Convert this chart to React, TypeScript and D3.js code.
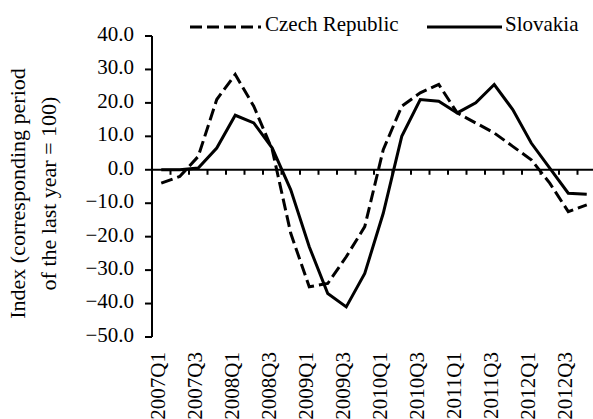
import React, { useEffect, useRef } from "react";
import * as d3 from "d3";

const quarters = [
  "2007Q1", "2007Q2", "2007Q3", "2007Q4",
  "2008Q1", "2008Q2", "2008Q3", "2008Q4",
  "2009Q1", "2009Q2", "2009Q3", "2009Q4",
  "2010Q1", "2010Q2", "2010Q3", "2010Q4",
  "2011Q1", "2011Q2", "2011Q3", "2011Q4",
  "2012Q1", "2012Q2", "2012Q3", "2012Q4",
];

const czech = [-4, -2, 4, 21, 28.5, 19, 6, -19, -35, -34, -26, -17, 6, 19, 23, 25.5, 17, 14, 11, 7, 3, -4, -12.5, -10.5];
const slovakia = [0, 0, 0.5, 6.5, 16.3, 14, 6.5, -6, -23, -37, -41, -31, -13, 10, 21, 20.5, 17, 20, 25.5, 18, 8, 0.5, -7, -7.3];

const yTicks = [40, 30, 20, 10, 0, -10, -20, -30, -40, -50];
const xLabels = quarters.filter((q, i) => i % 2 === 0);

const FONT = "'Liberation Serif', 'Times New Roman', serif";

export default function App() {
  const ref = useRef<SVGSVGElement | null>(null);

  useEffect(() => {
    const svg = d3.select(ref.current);
    svg.selectAll("*").remove();

    const left = 152;
    const right = 596;

    const x = d3.scaleBand().domain(quarters).range([left, right]).padding(0);
    const y = d3.scaleLinear().domain([-50, 40]).range([337, 36]);
    const cx = (q: string) => (x(q) as number) + x.bandwidth() / 2;

    // y axis
    svg.append("line")
      .attr("x1", left).attr("x2", left)
      .attr("y1", y(40)).attr("y2", y(-50))
      .attr("stroke", "#000").attr("stroke-width", 2);

    const yt = svg.append("g").selectAll("g").data(yTicks).enter().append("g");
    yt.append("line")
      .attr("x1", left - 7).attr("x2", left)
      .attr("y1", d => y(d)).attr("y2", d => y(d))
      .attr("stroke", "#000").attr("stroke-width", 2);
    yt.append("text")
      .attr("x", 134)
      .attr("y", d => y(d) - 2)
      .attr("dy", "0.33em")
      .attr("text-anchor", "end")
      .style("font-family", FONT)
      .style("font-size", "21px")
      .text(d => (d < 0 ? "\u2212" + Math.abs(d).toFixed(1) : d.toFixed(1)));

    // x axis at zero
    svg.append("line")
      .attr("x1", left).attr("x2", right)
      .attr("y1", y(0)).attr("y2", y(0))
      .attr("stroke", "#000").attr("stroke-width", 2);

    svg.append("g").selectAll("line").data(quarters.slice(1)).enter().append("line")
      .attr("x1", q => x(q) as number).attr("x2", q => x(q) as number)
      .attr("y1", y(0)).attr("y2", y(0) + 5)
      .attr("stroke", "#000").attr("stroke-width", 2);

    svg.append("g").selectAll("text").data(xLabels).enter().append("text")
      .attr("transform", q => `translate(${cx(q) - 3.5},352) rotate(-90)`)
      .attr("dy", "0.35em")
      .attr("text-anchor", "end")
      .style("font-family", FONT)
      .style("font-size", "21px")
      .text(q => q);

    // y title
    const title = svg.append("text")
      .attr("transform", "translate(0,193.5) rotate(-90)")
      .attr("text-anchor", "middle")
      .style("font-family", FONT)
      .style("font-size", "22px");
    title.append("tspan").attr("x", 0).attr("y", 25).text("Index (corresponding period");
    title.append("tspan").attr("x", 0).attr("y", 56).text("of the last year = 100)");

    // lines
    const line = d3.line<number>()
      .x((d, i) => cx(quarters[i]))
      .y(d => y(d));

    svg.append("path")
      .datum(czech)
      .attr("d", line)
      .attr("fill", "none")
      .attr("stroke", "#000")
      .attr("stroke-width", 3)
      .attr("stroke-dasharray", "12,5");

    svg.append("path")
      .datum(slovakia)
      .attr("d", line)
      .attr("fill", "none")
      .attr("stroke", "#000")
      .attr("stroke-width", 3);

    // legend
    svg.append("line")
      .attr("x1", 190).attr("x2", 261).attr("y1", 27).attr("y2", 27)
      .attr("stroke", "#000").attr("stroke-width", 3)
      .attr("stroke-dasharray", "12,5");
    svg.append("text")
      .attr("x", 265).attr("y", 31)
      .style("font-family", FONT).style("font-size", "21px")
      .text("Czech Republic");
    svg.append("line")
      .attr("x1", 427).attr("x2", 502).attr("y1", 27).attr("y2", 27)
      .attr("stroke", "#000").attr("stroke-width", 3);
    svg.append("text")
      .attr("x", 505).attr("y", 31)
      .style("font-family", FONT).style("font-size", "21px")
      .text("Slovakia");
  }, []);

  return (
    <svg
      ref={ref}
      width={593}
      height={419}
      style={{ position: "absolute", left: 0, top: 0, background: "#fff" }}
    />
  );
}
